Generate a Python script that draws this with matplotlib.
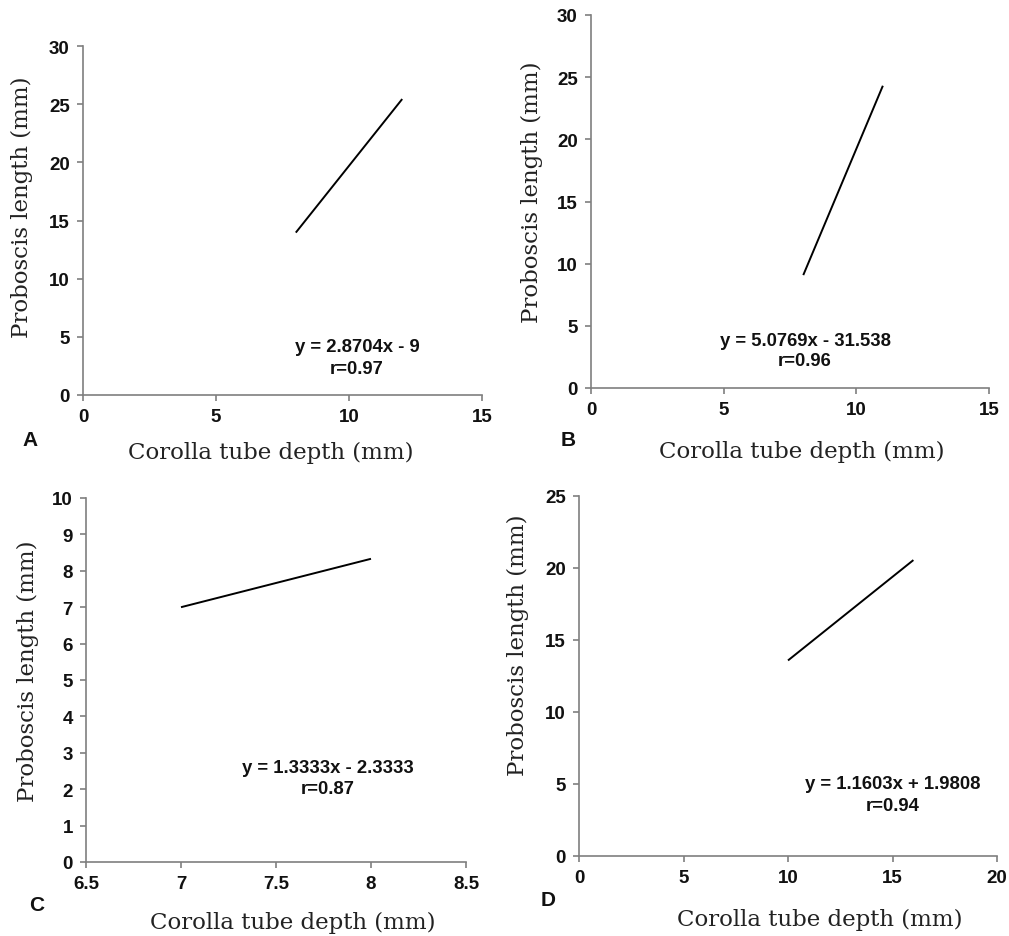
import matplotlib.pyplot as plt

W, H = 1009, 937

# regression line endpoints
panels = ["A", "B", "C", "D"]
line_x = [[8, 12], [8, 11], [7, 8], [10, 16]]
line_y = [[13.96, 25.44], [9.08, 24.31], [7.0, 8.33], [13.58, 20.55]]
equations = ["y = 2.8704x - 9", "y = 5.0769x - 31.538",
             "y = 1.3333x - 2.3333", "y = 1.1603x + 1.9808"]
r_values = ["r=0.97", "r=0.96", "r=0.87", "r=0.94"]
x_limits = [(0, 15), (0, 15), (6.5, 8.5), (0, 20)]
y_limits = [(0, 30), (0, 30), (0, 10), (0, 25)]
x_ticks = [[0, 5, 10, 15], [0, 5, 10, 15], [6.5, 7, 7.5, 8, 8.5], [0, 5, 10, 15, 20]]
x_ticklabels = [["0", "5", "10", "15"], ["0", "5", "10", "15"],
                ["6.5", "7", "7.5", "8", "8.5"], ["0", "5", "10", "15", "20"]]
y_ticks = [list(range(0, 31, 5)), list(range(0, 31, 5)), list(range(0, 11)), list(range(0, 26, 5))]

# axes boxes in pixels: left, right, top, bottom
boxes = [(83, 482, 47, 396), (591, 989, 16, 389), (86, 466, 499, 863), (579, 997, 497, 857)]
# pixel spots for: equation centre, r centre, panel letter, xlabel centre, ylabel centre
eq_pos = [(357, 348), (805, 342), (328, 769), (893, 785)]
r_pos = [(357, 370), (805, 362), (328, 790), (893, 807)]
letter_pos = [(30, 441), (568, 441), (37, 906), (548, 901)]
xlab_pos = [(271, 453), (802, 452), (293, 923), (820, 920)]
ylab_pos = [(22, 207), (532, 192), (28, 671), (518, 645)]

sans = "Liberation Sans"
serif = "DejaVu Serif"
axis_gray = "#7f7f7f"

fig = plt.figure(figsize=(W / 100, H / 100), dpi=100)


def fx(px):
    return px / W


def fy(py):
    return 1 - py / H


for i in range(4):
    l, r, t, b = boxes[i]
    ax = fig.add_axes([fx(l), fy(b), (r - l) / W, (b - t) / H])
    ax.plot(line_x[i], line_y[i], color="black", lw=1.4, solid_capstyle="butt")
    ax.set_xlim(*x_limits[i])
    ax.set_ylim(*y_limits[i])
    ax.set_xticks(x_ticks[i])
    ax.set_xticklabels(x_ticklabels[i])
    ax.set_yticks(y_ticks[i])
    for s in ["top", "right"]:
        ax.spines[s].set_visible(False)
    for s in ["left", "bottom"]:
        ax.spines[s].set_color(axis_gray)
        ax.spines[s].set_linewidth(1.2)
    ax.tick_params(direction="out", length=4.5, width=1.2, color=axis_gray,
                   pad=5, labelsize=13.5, labelcolor="#111111")
    for lab in ax.get_xticklabels() + ax.get_yticklabels():
        lab.set_family(sans)
        lab.set_fontweight("bold")
    ax.patch.set_alpha(0)

    fig.text(fx(eq_pos[i][0]), fy(eq_pos[i][1]), equations[i], ha="center", va="center",
             fontsize=13.3, family=sans, weight="bold", color="#111111")
    fig.text(fx(r_pos[i][0]), fy(r_pos[i][1]), r_values[i], ha="center", va="center",
             fontsize=13.3, family=sans, weight="bold", color="#111111")
    fig.text(fx(letter_pos[i][0]), fy(letter_pos[i][1]), panels[i], ha="center", va="center",
             fontsize=15, family=sans, weight="bold", color="#111111")
    fig.text(fx(xlab_pos[i][0]), fy(xlab_pos[i][1]), "Corolla tube depth (mm)",
             ha="center", va="center", fontsize=16.5, family=serif, color="#222222")
    fig.text(fx(ylab_pos[i][0]), fy(ylab_pos[i][1]), "Proboscis length (mm)",
             ha="center", va="center", rotation=90, fontsize=16.5, family=serif, color="#222222")

fig.savefig("out.png", dpi=100)
